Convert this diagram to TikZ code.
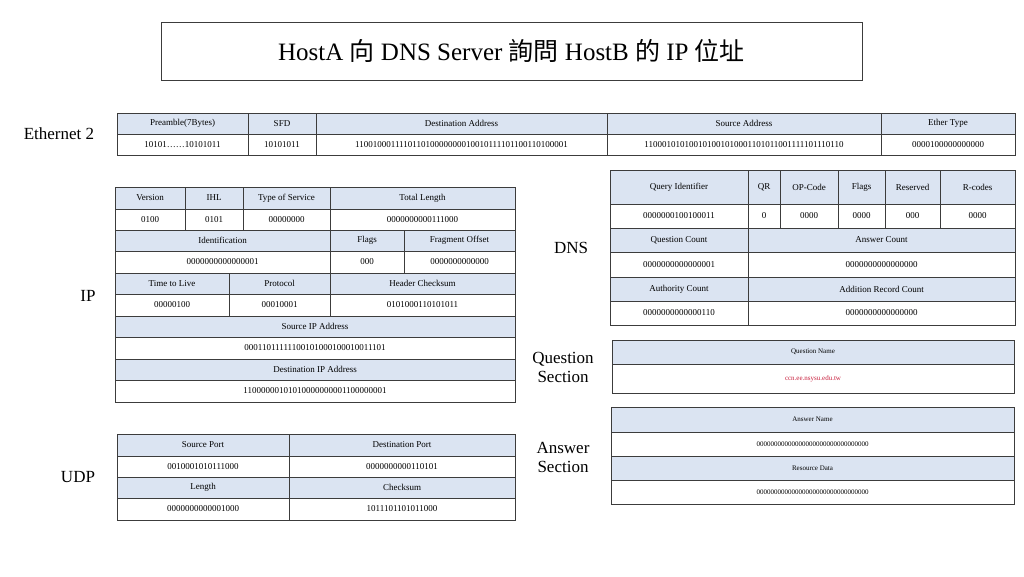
\documentclass[tikz,border=0pt]{standalone}
\usepackage{fontspec}
\setmainfont{Liberation Serif}
\newfontfamily\cjk{Noto Sans CJK TC}
\definecolor{headblue}{RGB}{219,228,242}
\definecolor{gridgray}{RGB}{60,60,60}
\definecolor{qred}{RGB}{200,30,60}
\tikzset{
  cell/.style={draw=gridgray, line width=1pt, inner sep=0pt, font=\fontsize{9}{10}\selectfont},
  head/.style={cell, fill=headblue},
  data/.style={cell, fill=white},
  small/.style={font=\fontsize{7}{8}\selectfont},
  proto/.style={font=\fontsize{17}{19}\selectfont, align=center}
}
% \cell{name}{x1}{x2}{y1}{y2}{style}{text}
\newcommand{\cell}[7]{%
  \node[#6, minimum width=#3-#2, minimum height=#5-#4] (#1) at ({(#2+#3)/2},{(#4+#5)/2}) {#7};}
\begin{document}
\begin{tikzpicture}[x=1pt, y=-1pt]
  \useasboundingbox (0,0) rectangle (1024,576);
  % Title
  \node[draw=gridgray, minimum width=701, minimum height=58,
        font=\fontsize{25}{28}\selectfont] (title) at (511.5,51)
        {HostA {\cjk 向} DNS Server {\cjk 詢問} HostB {\cjk 的} IP {\cjk 位址}};
  % Ethernet 2
  \node[proto] (ethlabel) at (59,134) {Ethernet 2};
  \cell{preh}{117}{248}{113}{134}{head}{Preamble(7Bytes)}
  \cell{sfdh}{248}{316}{113}{134}{head}{SFD}
  \cell{dsth}{316}{607}{113}{134}{head}{Destination Address}
  \cell{srch}{607}{881}{113}{134}{head}{Source Address}
  \cell{typh}{881}{1015}{113}{134}{head}{Ether Type}
  \cell{pred}{117}{248}{134}{155}{data}{10101\dots\dots10101011}
  \cell{sfdd}{248}{316}{134}{155}{data}{10101011}
  \cell{dstd}{316}{607}{134}{155}{data}{110010001111011010000000010010111101100110100001}
  \cell{srcd}{607}{881}{134}{155}{data}{110001010100101001010001101011001111101110110}
  \cell{typd}{881}{1015}{134}{155}{data}{0000100000000000}
  % IP
  \node[proto] (iplabel) at (88,296) {IP};
  \cell{verh}{115}{185}{187}{209}{head}{Version}
  \cell{ihlh}{185}{243}{187}{209}{head}{IHL}
  \cell{tosh}{243}{330}{187}{209}{head}{Type of Service}
  \cell{tlh}{330}{515}{187}{209}{head}{Total Length}
  \cell{verd}{115}{185}{209}{230}{data}{0100}
  \cell{ihld}{185}{243}{209}{230}{data}{0101}
  \cell{tosd}{243}{330}{209}{230}{data}{00000000}
  \cell{tld}{330}{515}{209}{230}{data}{0000000000111000}
  \cell{idh}{115}{330}{230}{251}{head}{Identification}
  \cell{flgh}{330}{404}{230}{251}{head}{Flags}
  \cell{fragh}{404}{515}{230}{251}{head}{Fragment Offset}
  \cell{idd}{115}{330}{251}{273}{data}{0000000000000001}
  \cell{flgd}{330}{404}{251}{273}{data}{000}
  \cell{fragd}{404}{515}{251}{273}{data}{0000000000000}
  \cell{ttlh}{115}{229}{273}{294}{head}{Time to Live}
  \cell{proh}{229}{330}{273}{294}{head}{Protocol}
  \cell{hcsh}{330}{515}{273}{294}{head}{Header Checksum}
  \cell{ttld}{115}{229}{294}{316}{data}{00000100}
  \cell{prod}{229}{330}{294}{316}{data}{00010001}
  \cell{hcsd}{330}{515}{294}{316}{data}{0101000110101011}
  \cell{sipah}{115}{515}{316}{337}{head}{Source IP Address}
  \cell{sipad}{115}{515}{337}{359}{data}{00011011111100101000100010011101}
  \cell{dipah}{115}{515}{359}{380}{head}{Destination IP Address}
  \cell{dipad}{115}{515}{380}{402}{data}{11000000101010000000001100000001}
  % UDP
  \node[proto] (udplabel) at (78,477) {UDP};
  \cell{sporth}{117}{289}{434}{456}{head}{Source Port}
  \cell{dporth}{289}{515}{434}{456}{head}{Destination Port}
  \cell{sportd}{117}{289}{456}{477}{data}{0010001010111000}
  \cell{dportd}{289}{515}{456}{477}{data}{0000000000110101}
  \cell{lenh}{117}{289}{477}{498}{head}{Length}
  \cell{csh}{289}{515}{477}{498}{head}{Checksum}
  \cell{lend}{117}{289}{498}{520}{data}{0000000000001000}
  \cell{csd}{289}{515}{498}{520}{data}{1011101101011000}
  % DNS
  \node[proto] (dnslabel) at (571,248) {DNS};
  \cell{qidh}{610}{748}{170}{204}{head}{Query Identifier}
  \cell{qrh}{748}{780}{170}{204}{head}{QR}
  \cell{oph}{780}{838}{170}{204}{head}{OP-Code}
  \cell{dflh}{838}{885}{170}{204}{head}{Flags}
  \cell{resh}{885}{940}{170}{204}{head}{Reserved}
  \cell{rch}{940}{1015}{170}{204}{head}{R-codes}
  \cell{qidd}{610}{748}{204}{228}{data}{0000000100100011}
  \cell{qrd}{748}{780}{204}{228}{data}{0}
  \cell{opd}{780}{838}{204}{228}{data}{0000}
  \cell{dfld}{838}{885}{204}{228}{data}{0000}
  \cell{resd}{885}{940}{204}{228}{data}{000}
  \cell{rcd}{940}{1015}{204}{228}{data}{0000}
  \cell{qch}{610}{748}{228}{252}{head}{Question Count}
  \cell{ach}{748}{1015}{228}{252}{head}{Answer Count}
  \cell{qcd}{610}{748}{252}{277}{data}{0000000000000001}
  \cell{acd}{748}{1015}{252}{277}{data}{0000000000000000}
  \cell{auch}{610}{748}{277}{301}{head}{Authority Count}
  \cell{arch}{748}{1015}{277}{301}{head}{Addition Record Count}
  \cell{aucd}{610}{748}{301}{325}{data}{0000000000000110}
  \cell{arcd}{748}{1015}{301}{325}{data}{0000000000000000}
  % Question Section
  \node[proto] (qlabel) at (563,367) {Question\\Section};
  \cell{qnh}{612}{1014}{340}{364}{head,small}{Question Name}
  \cell{qnd}{612}{1014}{364}{393}{data,small,text=qred}{ccn.ee.nsysu.edu.tw}
  % Answer Section
  \node[proto] (alabel) at (563,457) {Answer\\Section};
  \cell{anh}{611}{1014}{407}{432}{head,small}{Answer Name}
  \cell{and}{611}{1014}{432}{456}{data,small}{00000000000000000000000000000000}
  \cell{rdh}{611}{1014}{456}{480}{head,small}{Resource Data}
  \cell{rdd}{611}{1014}{480}{504}{data,small}{00000000000000000000000000000000}
\end{tikzpicture}
\end{document}
